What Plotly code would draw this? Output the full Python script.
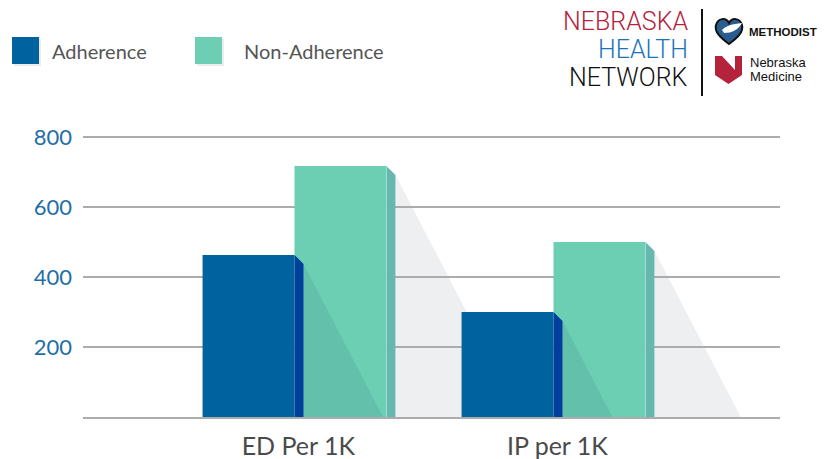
import plotly.graph_objects as go

# ---------------- data ----------------
categories = ["ED Per 1K", "IP per 1K"]
series_names = ["Adherence", "Non-Adherence"]
adherence = [463, 300]
non_adherence = [717, 500]
y_ticks = [200, 400, 600, 800]

# ---------------- styling ----------------
C_ADH = "#00639f"
C_ADH_SIDE = "#003f9c"
C_NON = "#6ccfb4"
C_NON_SIDE = "#66b8ae"
C_NON_EDGE = "#a6dccf"
C_OVER = "#63c1ab"
C_SHADOW = "#eeeff1"
C_GRID = "#acacac"

W, H = 826, 459
OFF = 8                       # page offset of the figure (body margin)
SL, ST, SR, SB = 83, 130, 780, 417   # plot area on screen
L, T = SL - OFF, ST - OFF
R, B = W - (SR - OFF), H - (SB - OFF)
PW = SR - SL
PH = SB - ST
X_RANGE = [-0.8166, 1.8745]
Y_RANGE = [0, 820]
px_x = PW / (X_RANGE[1] - X_RANGE[0])
px_y = PH / (Y_RANGE[1] - Y_RANGE[0])

BAR_W = 0.355
SIDE_PX = 9
side_dx = SIDE_PX / px_x
side_dy = SIDE_PX / px_y
SLOPE = 0.52  # horizontal px of shadow per vertical px


def pxx(v):
    return (v - SL) / PW


def pxy(v):
    return (SB - v) / PH


def px_path(s):
    out, is_x = [], True
    for t in s.replace(",", " ").split():
        if t.isalpha():
            out.append(t)
        else:
            v = float(t)
            out.append(f"{pxx(v):.5f}" if is_x else f"{pxy(v):.5f}")
            is_x = not is_x
    return " ".join(out)


pos = list(range(len(categories)))
fig = go.Figure()

shapes = []
# grey drop shadows of the non-adherence bars (below gridlines)
for i, v in zip(pos, non_adherence):
    xr = i + BAR_W + side_dx
    top = v - side_dy
    reach = SLOPE * top * px_y / px_x
    shapes.append(dict(type="path", xref="x", yref="y", layer="below",
                       path=f"M {xr} {top} L {xr + reach} 0 L {xr} 0 Z",
                       fillcolor=C_SHADOW, line=dict(width=0)))

# front faces
fig.add_trace(go.Bar(x=pos, y=adherence, name=series_names[0], width=BAR_W,
                     offset=-BAR_W, marker=dict(color=C_ADH, line=dict(width=0)),
                     showlegend=False))
fig.add_trace(go.Bar(x=pos, y=non_adherence, name=series_names[1], width=BAR_W,
                     offset=0, marker=dict(color=C_NON, line=dict(width=0)),
                     showlegend=False))

# darker shadow of the adherence bar falling on the non-adherence bar
for i, v in zip(pos, adherence):
    xr = i + side_dx
    top = v - side_dy
    reach = SLOPE * top * px_y / px_x
    fig.add_trace(go.Scatter(x=[xr, xr + reach, xr, xr], y=[top, 0, 0, top],
                             mode="lines", fill="toself", fillcolor=C_OVER,
                             line=dict(width=0), hoverinfo="skip", showlegend=False))

# side faces
for vals, off, col in [(adherence, 0, C_ADH_SIDE), (non_adherence, BAR_W, C_NON_SIDE)]:
    for i, v in zip(pos, vals):
        xr = i + off
        fig.add_trace(go.Scatter(
            x=[xr, xr + side_dx, xr + side_dx, xr, xr],
            y=[v, v - side_dy, 0, 0, v],
            mode="lines", fill="toself", fillcolor=col,
            line=dict(width=0), hoverinfo="skip", showlegend=False))
for i, v in zip(pos, non_adherence):
    xr = i + BAR_W
    fig.add_trace(go.Scatter(x=[xr, xr], y=[0, v], mode="lines",
                             line=dict(color=C_NON_EDGE, width=1),
                             hoverinfo="skip", showlegend=False))

# ---------------- legend (manual) ----------------
annotations = []
for name, col, x0, tx in [(series_names[0], C_ADH, 12, 50), (series_names[1], C_NON, 195, 242)]:
    shapes.append(dict(type="rect", xref="paper", yref="paper",
                       x0=pxx(x0 + 2), x1=pxx(x0 + 29), y0=pxy(39), y1=pxy(66),
                       fillcolor="#ececec", line=dict(width=0), layer="above"))
    shapes.append(dict(type="rect", xref="paper", yref="paper",
                       x0=pxx(x0), x1=pxx(x0 + 27), y0=pxy(37), y1=pxy(64),
                       fillcolor=col, line=dict(width=0), layer="above"))
    annotations.append(dict(text=name, xref="paper", yref="paper", x=pxx(tx), y=pxy(51),
                            xanchor="left", yanchor="middle", showarrow=False,
                            font=dict(family="Lato", size=20, color="#555555")))

# ---------------- logo ----------------
for txt, col, yc in [("NEBRASKA", "#b5223b", 21), ("HEALTH", "#1b74ba", 49), ("NETWORK", "#111111", 77)]:
    annotations.append(dict(text=txt, xref="paper", yref="paper", x=pxx(690), y=pxy(yc),
                            xanchor="right", yanchor="middle", showarrow=False,
                            height=24, valign="middle",
                            font=dict(family="Roboto", size=25, color=col, weight=300)))
shapes.append(dict(type="line", xref="paper", yref="paper", x0=pxx(702), x1=pxx(702),
                   y0=pxy(9), y1=pxy(96), line=dict(color="#111111", width=2), layer="above"))
# Methodist heart
shapes.append(dict(type="path", xref="paper", yref="paper", layer="above",
                   path=px_path("M 729 44 C 721 38, 714 32, 716 25 C 718 18, 726 17, 729 23 "
                                "C 732 17, 740 18, 742 25 C 744 32, 737 38, 729 44 Z"),
                   fillcolor="#2a5d8f", line=dict(color="#111111", width=2)))
shapes.append(dict(type="path", xref="paper", yref="paper", layer="above",
                   path=px_path("M 722 30 C 726 26, 732 24, 742 23 C 738 30, 732 33, 724 33 Z"),
                   fillcolor="#ffffff", line=dict(width=0)))
annotations.append(dict(text="<b>METHODIST</b>", xref="paper", yref="paper", x=pxx(747), y=pxy(31.5),
                        xanchor="left", yanchor="middle", showarrow=False,
                        font=dict(family="Liberation Sans", size=11.5, color="#111111")))
# Nebraska Medicine N-shield
shapes.append(dict(type="path", xref="paper", yref="paper", layer="above",
                   path=px_path("M 715 56 L 722 56 L 735 70 L 735 56 L 742 56 L 742 75 "
                                "L 728.5 84 L 715 75 Z"),
                   fillcolor="#b5223b", line=dict(width=0)))
annotations.append(dict(text="Nebraska", xref="paper", yref="paper", x=pxx(748), y=pxy(63),
                        xanchor="left", yanchor="middle", showarrow=False,
                        font=dict(family="Liberation Sans", size=13, color="#111111")))
annotations.append(dict(text="Medicine", xref="paper", yref="paper", x=pxx(748), y=pxy(77),
                        xanchor="left", yanchor="middle", showarrow=False,
                        font=dict(family="Liberation Sans", size=13, color="#111111")))

fig.update_layout(
    width=W, height=H,
    margin=dict(l=L, r=R, t=T, b=B, pad=0, autoexpand=False),
    paper_bgcolor="white", plot_bgcolor="rgba(0,0,0,0)",
    barmode="overlay",
    shapes=shapes, annotations=annotations,
    showlegend=False,
    xaxis=dict(range=X_RANGE, tickvals=[p + 0.015 for p in pos], ticktext=categories,
               showgrid=False, zeroline=False, showline=True, linecolor=C_GRID, linewidth=2,
               ticks="", ticklabelstandoff=6, automargin=False,
               tickfont=dict(family="Lato", size=25, color="#4a4a4a"), fixedrange=True),
    yaxis=dict(range=Y_RANGE, tickvals=y_ticks, ticktext=[str(t) for t in y_ticks],
               showgrid=True, gridcolor=C_GRID, gridwidth=2, zeroline=False,
               ticks="", ticklabelstandoff=10, automargin=False,
               tickfont=dict(family="Lato", size=22, color="#1f6fa6"), fixedrange=True),
)

fig.write_html("out.html")
